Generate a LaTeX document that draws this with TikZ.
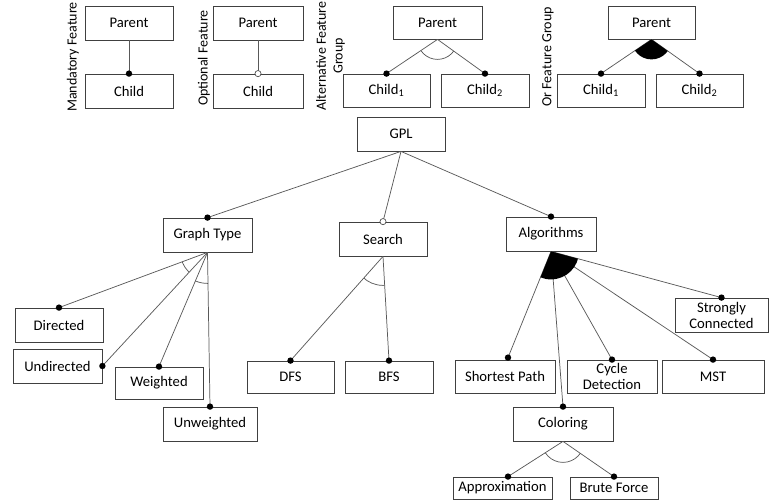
\documentclass[tikz,border=0pt]{standalone}
\usepackage{fontspec}
\setmainfont{Carlito}
\usetikzlibrary{calc}
\begin{document}
\begin{tikzpicture}[x=0.75pt,y=-0.75pt,
  box/.style={draw=black!75, line width=0.6pt, inner sep=1pt, align=center,
    minimum width=66pt, minimum height=25.5pt,
    font=\fontsize{11}{12}\selectfont, text=black},
  link/.style={draw=black!65, line width=0.55pt},
  lbl/.style={rotate=90, align=center, font=\fontsize{10.5}{12.5}\selectfont, text=black, inner sep=0pt},
  mdot/.style={fill=black},
  odot/.style={draw=black!70, fill=white, line width=0.5pt}]
\useasboundingbox (0,0) rectangle (769,503);

% ---- legend ----
\node[lbl] (lm) at (73,57) {Mandatory Feature};
\node[lbl] (lo) at (204,58) {Optional Feature};
\node[lbl] (la) at (330.5,56) {Alternative Feature\\Group};
\node[lbl] (lr) at (548,57) {Or Feature Group};

\node[box] (mp) at (129,23) {Parent};
\node[box] (mc) at (129,91) {Child};
\node[box, minimum width=67.5pt] (op) at (258,23) {Parent};
\node[box, minimum width=67.5pt] (oc) at (258,91) {Child};
\node[box, minimum width=66.75pt, minimum height=24.75pt] (ap) at (437.5,22.5) {Parent};
\node[box, minimum width=65.25pt, minimum height=24.75pt] (ac1) at (386.5,90.5) {Child\textsubscript{1}};
\node[box, minimum height=24.75pt] (ac2) at (485,90.5) {Child\textsubscript{2}};
\node[box, minimum width=65.25pt, minimum height=24.75pt] (orp) at (651.5,22.5) {Parent};
\node[box, minimum height=24.75pt] (orc1) at (601,90.5) {Child\textsubscript{1}};
\node[box, minimum width=65.25pt, minimum height=24.75pt] (orc2) at (699.5,90.5) {Child\textsubscript{2}};

% ---- GPL tree ----
\node[box] (gpl) at (401,134) {GPL};
\node[box, minimum width=66.75pt] (gt) at (207.5,235) {Graph Type};
\node[box] (se) at (383,239) {Search};
\node[box, minimum width=67.5pt] (al) at (551,234) {Algorithms};

\node[box] (dir) at (59,325) {Directed};
\node[box, minimum width=66.75pt] (und) at (57.5,366) {Undirected};
\node[box, minimum height=24pt] (wei) at (159,383) {Weighted};
\node[box, minimum width=70.5pt] (unw) at (210,424) {Unweighted};

\node[box, minimum width=65.25pt, minimum height=24pt] (dfs) at (290.5,377) {DFS};
\node[box, minimum height=24pt] (bfs) at (389,377) {BFS};

\node[box, minimum width=75pt, minimum height=24.75pt] (sp) at (505,376.5) {Shortest Path};
\node[box, minimum width=67.5pt, minimum height=24.75pt] (cd) at (612,376.5) {Cycle\\Detection};
\node[box, minimum width=76.5pt, minimum height=24.75pt] (mst) at (713,376.5) {MST};
\node[box, minimum width=69.75pt] (sc) at (721.5,315) {Strongly\\Connected};
\node[box, minimum width=75pt] (col) at (563,424) {Coloring};
\node[box, minimum width=74.25pt, minimum height=16.5pt] (apx) at (502.5,488) {Approximation};
\node[box, minimum height=16.5pt] (bf) at (614,488) {Brute Force};

\coordinate (apxT) at ($(apx.north)+(5.5,0)$);
\coordinate (spT) at ($(sp.north)+(3,-2)$);

% ---- connectors ----
\draw[link] (mp.south) -- (mc.north);
\draw[link] (op.south) -- (oc.north);
\draw[link] (ap.south) -- (ac1.north);
\draw[link] (ap.south) -- (ac2.north);
\draw[link] (orp.south) -- (orc1.north);
\draw[link] (orp.south) -- (orc2.north);

\draw[link] (gpl.south) -- (gt.north);
\draw[link] (gpl.south) -- (se.north);
\draw[link] (gpl.south) -- (al.north);

\draw[link] (gt.south) -- (dir.north);
\draw[link] (gt.south) -- (und.east);
\draw[link] (gt.south) -- (wei.north);
\draw[link] (gt.south) -- (unw.north);

\draw[link] (se.south) -- (dfs.north);
\draw[link] (se.south) -- (bfs.north);

\draw[link] (al.south) -- (spT);
\draw[link] (al.south) -- (col.north);
\draw[link] (al.south) -- (cd.north);
\draw[link] (al.south) -- (mst.north);
\draw[link] (al.south) -- (sc.north);

\draw[link] (col.south) -- (apxT);
\draw[link] (col.south) -- (bf.north);

% ---- group arcs ----
\begin{scope}
  \clip (ap.south) -- ($(ap.south)!4!(ac1.north)$) -- ($(ap.south)!4!(ac2.north)$) -- cycle;
  \draw[link] (ap.south) circle[radius=15pt];
\end{scope}
\begin{scope}
  \clip (orp.south) -- ($(orp.south)!4!(orc1.north)$) -- ($(orp.south)!4!(orc2.north)$) -- cycle;
  \fill[black] (orp.south) circle[radius=15pt];
\end{scope}
\begin{scope}
  \clip (gt.south) -- ($(gt.south)!4!(dir.north)$) -- ($(gt.south)!4!(und.east)$) -- cycle;
  \draw[link] (gt.south) circle[radius=20.25pt];
\end{scope}
\begin{scope}
  \clip (gt.south) -- ($(gt.south)!4!(wei.north)$) -- ($(gt.south)!4!(unw.north)$) -- cycle;
  \draw[link] (gt.south) circle[radius=23.25pt];
\end{scope}
\begin{scope}
  \clip (se.south) -- ($(se.south)!4!(dfs.north)$) -- ($(se.south)!4!(bfs.north)$) -- cycle;
  \draw[link] (se.south) circle[radius=21.75pt];
\end{scope}
\begin{scope}
  \clip (al.south) -- ($(al.south)!4!(spT)$) -- ($(al.south)!4!(sc.north)$) -- cycle;
  \fill[black] (al.south) circle[radius=21pt];
\end{scope}
\begin{scope}
  \clip (col.south) -- ($(col.south)!4!(apxT)$) -- ($(col.south)!4!(bf.north)$) -- cycle;
  \draw[link] (col.south) circle[radius=15.75pt];
\end{scope}

% ---- end markers ----
\foreach \p in {mc.north, ac1.north, ac2.north, orc1.north, orc2.north,
  gt.north, al.north, dir.north, und.east, wei.north, unw.north,
  dfs.north, bfs.north, spT, cd.north, mst.north, sc.north, col.north,
  apxT, bf.north}
  \fill[mdot] (\p) circle[radius=2.4pt];
\draw[odot] (oc.north) circle[radius=2.3pt];
\draw[odot] (se.north) circle[radius=2.3pt];
\end{tikzpicture}
\end{document}
